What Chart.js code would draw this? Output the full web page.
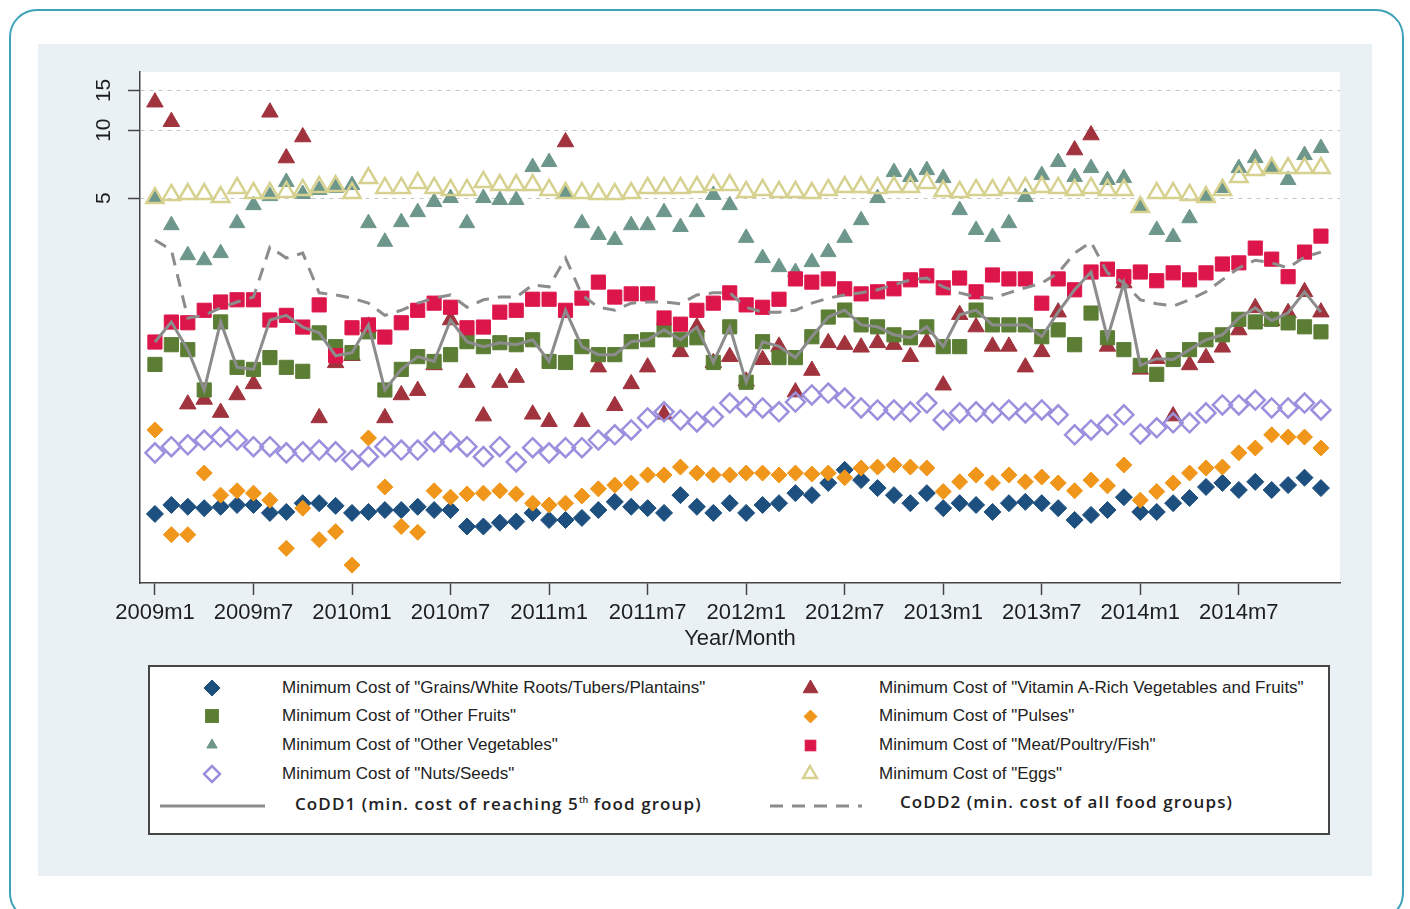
<!DOCTYPE html>
<html>
<head>
<meta charset="utf-8">
<title>CoDD</title>
<script src="https://cdn.jsdelivr.net/npm/chart.js@4.4.1/dist/chart.umd.min.js"></script>
<style>
  body { margin: 0; width: 1410px; height: 909px; overflow: hidden; background: #fff; position: relative; }
  #frame { position: absolute; left: 9px; top: 9px; width: 1395px; height: 912px; box-sizing: border-box; border: 2px solid #3fa2b9; border-radius: 28px; }
  #panel { position: absolute; left: 38px; top: 44px; width: 1334px; height: 832px; background: #eaf1f4; }
  #chartBox { position: absolute; left: 38px; top: 44px; width: 1334px; height: 620px; }
  #legendBox { position: absolute; left: 148px; top: 665px; width: 1182px; height: 170px; box-sizing: border-box; border: 2px solid #454545; background: #fff; }
  .lg { position: absolute; white-space: nowrap; color: #222; font-family: "Liberation Sans", Arial, sans-serif; font-size: 17px; line-height: 20px; transform: translateY(-50%); }
  .lg.big { font-family: "Open Sans", sans-serif; font-weight: 600; font-size: 17px; letter-spacing: 1.1px; }
  .lg sup { font-size: 9px; vertical-align: 7px; letter-spacing: 0; }
  svg.mk { position: absolute; overflow: visible; }
</style>
</head>
<body>
<div id="frame"></div>
<div id="panel"></div>
<div id="chartBox"><canvas id="myChart"></canvas></div>
<div id="legendBox"></div>
<script>
// MONTHS 2009m1 .. 2014m12
const months = [];
for (let y = 2009; y <= 2014; y++) {
    for (let m = 1; m <= 12; m++) months.push(y + 'm' + m);
}
const xTickIdx = [0, 6, 12, 18, 24, 30, 36, 42, 48, 54, 60, 66];
const xTickLabels = ['2009m1', '2009m7', '2010m1', '2010m7', '2011m1', '2011m7', '2012m1', '2012m7', '2013m1', '2013m7', '2014m1', '2014m7'];
const yTicks = [5, 10, 15];

// MINIMUM COST PER FOOD GROUP (log scale values)
const grains = [0.199, 0.218, 0.214, 0.211, 0.214, 0.218, 0.218, 0.201, 0.203, 0.222, 0.222, 0.216,
    0.201, 0.203, 0.207, 0.207, 0.214, 0.207, 0.207, 0.175, 0.175, 0.182, 0.184, 0.201,
    0.187, 0.187, 0.191, 0.207, 0.225, 0.214, 0.211, 0.201, 0.241, 0.214, 0.201, 0.222,
    0.201, 0.218, 0.222, 0.246, 0.241, 0.273, 0.312, 0.281, 0.259, 0.241, 0.222, 0.246,
    0.211, 0.222, 0.218, 0.203, 0.222, 0.225, 0.222, 0.211, 0.187, 0.197, 0.207, 0.236,
    0.203, 0.203, 0.222, 0.234, 0.262, 0.273, 0.254, 0.276, 0.254, 0.267, 0.288, 0.259];
const vitA = [13.3, 10.9, 0.61, 0.64, 0.56, 0.67, 0.75, 12.0, 7.52, 9.32, 0.53, 0.93,
    1.00, 1.35, 0.53, 0.67, 0.70, 0.91, 1.44, 0.76, 0.54, 0.76, 0.80, 0.55,
    0.51, 8.86, 0.51, 0.89, 0.60, 0.75, 0.89, 0.55, 1.04, 1.34, 0.93, 0.99,
    0.77, 0.96, 1.10, 0.69, 0.86, 1.14, 1.12, 1.09, 1.14, 1.12, 0.99, 1.15,
    0.74, 1.52, 1.34, 1.10, 1.10, 0.89, 1.04, 1.56, 8.16, 9.51, 1.10, 2.10,
    0.87, 0.97, 0.54, 0.91, 0.98, 1.09, 1.30, 1.63, 1.43, 1.55, 1.92, 1.56];
const fruits = [0.915, 1.119, 1.064, 0.705, 1.412, 0.888, 0.870, 0.981, 0.888, 0.853, 1.263, 1.097,
    1.032, 1.276, 0.705, 0.870, 0.991, 0.943, 1.011, 1.154, 1.097, 1.142, 1.119, 1.177,
    0.943, 0.933, 1.097, 1.011, 1.011, 1.154, 1.177, 1.302, 1.177, 1.201, 0.933, 1.343,
    0.763, 1.154, 0.981, 0.981, 1.214, 1.484, 1.594, 1.370, 1.343, 1.238, 1.201, 1.343,
    1.097, 1.097, 1.594, 1.370, 1.370, 1.370, 1.214, 1.302, 1.119, 1.546, 1.201, 1.064,
    0.906, 0.827, 0.962, 1.064, 1.177, 1.238, 1.450, 1.412, 1.450, 1.398, 1.343, 1.276];
const pulses = [0.469, 0.161, 0.161, 0.302, 0.241, 0.252, 0.246, 0.229, 0.140, 0.211, 0.153, 0.166,
    0.118, 0.432, 0.262, 0.175, 0.165, 0.252, 0.236, 0.244, 0.246, 0.252, 0.244, 0.222,
    0.218, 0.222, 0.239, 0.257, 0.267, 0.273, 0.296, 0.296, 0.321, 0.302, 0.296, 0.296,
    0.302, 0.302, 0.296, 0.302, 0.299, 0.302, 0.288, 0.318, 0.321, 0.328, 0.321, 0.318,
    0.250, 0.276, 0.296, 0.273, 0.296, 0.276, 0.290, 0.273, 0.252, 0.281, 0.265, 0.328,
    0.229, 0.250, 0.273, 0.302, 0.318, 0.321, 0.371, 0.390, 0.446, 0.436, 0.436, 0.390];
const veg = [5.00, 3.79, 2.79, 2.65, 2.85, 3.87, 4.65, 5.10, 5.89, 5.21, 5.43, 5.54,
    5.71, 3.87, 3.20, 3.91, 4.33, 4.80, 5.00, 3.87, 5.00, 4.90, 4.90, 6.86,
    7.22, 5.21, 3.87, 3.43, 3.26, 3.79, 3.79, 4.33, 3.72, 4.33, 5.16, 4.65,
    3.33, 2.71, 2.47, 2.35, 2.60, 2.88, 3.33, 3.99, 5.00, 6.52, 6.20, 6.65,
    6.13, 4.42, 3.61, 3.36, 3.87, 5.05, 6.32, 7.22, 6.20, 6.79, 6.01, 6.13,
    4.56, 3.61, 3.36, 4.07, 5.05, 5.54, 6.79, 7.52, 6.86, 6.01, 7.75, 8.33];
const meat = [1.15, 1.41, 1.40, 1.59, 1.73, 1.77, 1.77, 1.44, 1.51, 1.34, 1.68, 1.00,
    1.33, 1.37, 1.21, 1.40, 1.59, 1.71, 1.64, 1.33, 1.34, 1.56, 1.59, 1.78,
    1.78, 1.59, 1.80, 2.12, 1.82, 1.88, 1.88, 1.47, 1.38, 1.59, 1.71, 1.90,
    1.68, 1.64, 1.78, 2.19, 2.12, 2.19, 1.98, 1.88, 1.92, 1.98, 2.17, 2.26,
    2.00, 2.21, 1.92, 2.28, 2.19, 2.19, 1.71, 2.19, 1.96, 2.35, 2.42, 2.24,
    2.35, 2.15, 2.33, 2.17, 2.33, 2.55, 2.58, 3.00, 2.68, 2.24, 2.88, 3.39];
const nuts = [0.371, 0.395, 0.403, 0.423, 0.436, 0.423, 0.395, 0.395, 0.371, 0.375, 0.382, 0.375,
    0.345, 0.357, 0.395, 0.382, 0.382, 0.415, 0.415, 0.395, 0.357, 0.395, 0.338, 0.391,
    0.371, 0.391, 0.391, 0.423, 0.446, 0.469, 0.530, 0.564, 0.519, 0.509, 0.536, 0.617,
    0.593, 0.587, 0.564, 0.623, 0.670, 0.683, 0.649, 0.587, 0.575, 0.575, 0.564, 0.617,
    0.519, 0.558, 0.564, 0.558, 0.575, 0.558, 0.575, 0.547, 0.446, 0.469, 0.494, 0.547,
    0.450, 0.479, 0.504, 0.504, 0.558, 0.605, 0.605, 0.636, 0.587, 0.587, 0.617, 0.575];
const eggs = [5.00, 5.16, 5.21, 5.21, 5.05, 5.54, 5.26, 5.26, 5.32, 5.43, 5.59, 5.65,
    5.26, 6.13, 5.54, 5.54, 5.83, 5.54, 5.43, 5.43, 5.89, 5.71, 5.71, 5.71,
    5.43, 5.26, 5.26, 5.21, 5.21, 5.26, 5.54, 5.54, 5.54, 5.59, 5.71, 5.71,
    5.32, 5.43, 5.32, 5.32, 5.26, 5.43, 5.59, 5.59, 5.54, 5.59, 5.59, 5.83,
    5.37, 5.32, 5.43, 5.43, 5.54, 5.54, 5.59, 5.54, 5.43, 5.54, 5.43, 5.43,
    4.56, 5.26, 5.26, 5.16, 5.05, 5.43, 6.20, 6.65, 6.79, 6.79, 6.79, 6.79];
const codd1 = [1.15, 1.41, 1.064, 0.705, 1.412, 0.888, 0.870, 1.44, 1.51, 1.34, 1.263, 1.00,
    1.032, 1.37, 0.705, 0.870, 0.991, 0.943, 1.44, 1.154, 1.097, 1.142, 1.119, 1.177,
    0.943, 1.59, 1.097, 1.011, 1.011, 1.154, 1.177, 1.302, 1.177, 1.34, 0.933, 1.343,
    0.763, 1.154, 1.10, 0.981, 1.214, 1.484, 1.594, 1.370, 1.343, 1.238, 1.201, 1.343,
    1.097, 1.52, 1.594, 1.370, 1.370, 1.370, 1.214, 1.56, 1.96, 2.35, 1.201, 2.10,
    0.906, 0.97, 0.962, 1.064, 1.177, 1.238, 1.469, 1.63, 1.43, 1.55, 1.92, 1.56];
const codd2 = [3.26, 2.94, 1.47, 1.51, 1.63, 1.73, 1.82, 3.03, 2.71, 2.85, 1.90, 1.86,
    1.80, 1.71, 1.51, 1.59, 1.71, 1.80, 1.86, 1.64, 1.77, 1.82, 1.82, 2.06,
    2.02, 2.71, 1.86, 1.64, 1.59, 1.71, 1.73, 1.73, 1.70, 1.86, 1.90, 1.90,
    1.64, 1.56, 1.56, 1.59, 1.71, 1.80, 1.86, 1.90, 1.96, 2.06, 2.17, 2.21,
    2.02, 1.90, 1.82, 1.80, 1.90, 2.00, 2.10, 2.33, 2.85, 3.19, 2.33, 2.10,
    1.77, 1.70, 1.66, 1.77, 1.92, 2.17, 2.45, 2.65, 2.58, 2.45, 2.74, 2.88];

// SERIES IN STATA DRAW ORDER (first = bottom), legend fills row by row
const series = [
    { label: 'Minimum Cost of "Grains/White Roots/Tubers/Plantains"', data: grains, shape: 'rectRot', color: '#1d4f7f', r: 8.5, lr: 8 },
    { label: 'Minimum Cost of "Vitamin A-Rich Vegetables and Fruits"', data: vitA, shape: 'triangle', color: '#a0333d', r: 9.5, lr: 8.5 },
    { label: 'Minimum Cost of "Other Fruits"', data: fruits, shape: 'rect', color: '#5b7d34', r: 10, lr: 9 },
    { label: 'Minimum Cost of "Pulses"', data: pulses, shape: 'rectRot', color: '#f0961a', r: 8, lr: 6.5 },
    { label: 'Minimum Cost of "Other Vegetables"', data: veg, shape: 'triangle', color: '#6e978c', r: 9, lr: 6 },
    { label: 'Minimum Cost of "Meat/Poultry/Fish"', data: meat, shape: 'rect', color: '#dc164a', r: 10, lr: 7.5 },
    { label: 'Minimum Cost of "Nuts/Seeds"', data: nuts, shape: 'rectRot', color: '#9a90dd', r: 9.5, lr: 8, hollow: true },
    { label: 'Minimum Cost of "Eggs"', data: eggs, shape: 'triangle', color: '#d6d18f', r: 10, lr: 8, hollow: true },
    { label: 'CoDD1 (min. cost of reaching 5<sup>th</sup> food group)', data: codd1, line: true, color: '#8c8c8c' },
    { label: 'CoDD2 (min. cost of all food groups)', data: codd2, line: true, dash: [13, 9], color: '#8c8c8c' }
];

const datasets = series.map((s, k) => ({
    label: s.label,
    data: s.data.map((v, i) => ({ x: i, y: v })),
    order: series.length - k,
    showLine: !!s.line,
    borderColor: s.color,
    borderWidth: s.line ? 3 : 0,
    borderDash: s.dash || [],
    pointStyle: s.shape || 'circle',
    pointRadius: s.line ? 0 : s.r,
    pointHoverRadius: s.line ? 0 : s.r,
    pointBackgroundColor: s.hollow ? 'rgba(0,0,0,0)' : s.color,
    pointBorderColor: s.color,
    pointBorderWidth: s.hollow ? 2.5 : 1,
    fill: false,
    tension: 0
}));

// white plot region + rotated y labels
const plotBg = {
    id: 'plotBg',
    beforeDraw(chart) {
        const { ctx, chartArea: a } = chart;
        ctx.save();
        ctx.fillStyle = '#fff';
        ctx.fillRect(a.left, a.top, a.right - a.left, a.bottom - a.top);
        ctx.restore();
    }
};
const yLabels = {
    id: 'yLabels',
    afterDraw(chart) {
        const { ctx } = chart;
        const y = chart.scales.y;
        ctx.save();
        ctx.fillStyle = '#1e1e1e';
        ctx.font = '21px "Liberation Sans", Arial, sans-serif';
        ctx.textAlign = 'center';
        ctx.textBaseline = 'middle';
        yTicks.forEach(v => {
            ctx.save();
            ctx.translate(66, y.getPixelForValue(v));
            ctx.rotate(-Math.PI / 2);
            ctx.fillText(String(v), 0, 0);
            ctx.restore();
        });
        ctx.restore();
    }
};

const config = {
    type: 'line',
    data: { datasets: datasets },
    options: {
        responsive: true,
        maintainAspectRatio: false,
        animation: false,
        events: [],
        layout: { padding: { top: 28, right: 32, left: 0, bottom: 0 } },
        plugins: { legend: { display: false }, tooltip: { enabled: false } },
        scales: {
            x: {
                type: 'linear',
                min: -0.91,
                max: 72.16,
                afterBuildTicks: s => { s.ticks = xTickIdx.map(v => ({ value: v })); },
                afterFit: s => { s.height = 81; },
                ticks: {
                    autoSkip: false, maxRotation: 0, padding: 5, color: '#1e1e1e',
                    font: { family: '"Liberation Sans", Arial, sans-serif', size: 22 },
                    callback: v => xTickLabels[xTickIdx.indexOf(v)]
                },
                grid: { drawOnChartArea: false, tickLength: 12, tickColor: '#444', tickWidth: 1.5 },
                border: { color: '#444', width: 1.5 },
                title: {
                    display: true, text: 'Year/Month', color: '#1e1e1e',
                    font: { family: '"Liberation Sans", Arial, sans-serif', size: 22 },
                    padding: { top: 0, bottom: 12 }
                }
            },
            y: {
                type: 'logarithmic',
                min: 0.0983,
                max: 18.1,
                afterBuildTicks: s => { s.ticks = yTicks.map(v => ({ value: v })); },
                afterFit: s => { s.width = 102; },
                ticks: { display: false },
                grid: { color: '#c4c4c4', lineWidth: 1, tickLength: 12, tickColor: '#444', tickWidth: 1.5 },
                border: { color: '#444', width: 1.5, dash: [4, 5] }
            }
        }
    },
    plugins: [plotBg, yLabels]
};
const myChart = new Chart(document.getElementById('myChart'), config);

// LEGEND (html, two columns like the stata one)
const rowY = [688, 716, 745, 774, 802];
const markX = [212, 810];
const textX = [282, 879];
const lineX = [[160, 265], [770, 862]];
const lineTextX = [295, 900];

function markerSvg(s, cx, cy) {
    const r = s.lr, pad = 3, size = 2 * r + 2 * pad, c = size / 2;
    let shape;
    if (s.shape === 'rectRot') {
        shape = `<polygon points="${c - r},${c} ${c},${c - r} ${c + r},${c} ${c},${c + r}"/>`;
    } else if (s.shape === 'rect') {
        const h = r * Math.SQRT1_2;
        shape = `<rect x="${c - h}" y="${c - h}" width="${2 * h}" height="${2 * h}"/>`;
    } else {
        shape = `<polygon points="${c},${c - r} ${c + 0.866 * r},${c + 0.5 * r} ${c - 0.866 * r},${c + 0.5 * r}"/>`;
    }
    const paint = s.hollow ? `fill="none" stroke="${s.color}" stroke-width="2.5"` : `fill="${s.color}" stroke="${s.color}" stroke-width="1"`;
    return `<svg class="mk" style="left:${cx - c}px;top:${cy - c}px" width="${size}" height="${size}"><g ${paint}>${shape}</g></svg>`;
}

let html = '';
series.forEach((s, k) => {
    const row = Math.floor(k / 2), col = k % 2;
    const y = rowY[row];
    if (s.line) {
        const [x1, x2] = lineX[col];
        const dash = s.dash ? `stroke-dasharray="${s.dash.join(' ')}"` : '';
        html += `<svg class="mk" style="left:${x1}px;top:${y + 1}px" width="${x2 - x1}" height="6"><line x1="0" y1="3" x2="${x2 - x1}" y2="3" stroke="${s.color}" stroke-width="3" ${dash}/></svg>`;
        html += `<div class="lg big" style="left:${lineTextX[col]}px;top:${y}px">${s.label}</div>`;
    } else {
        html += markerSvg(s, markX[col], y);
        html += `<div class="lg" style="left:${textX[col]}px;top:${y}px">${s.label.replace(/</g, '&lt;')}</div>`;
    }
});
document.body.insertAdjacentHTML('beforeend', html);
</script>
</body>
</html>
